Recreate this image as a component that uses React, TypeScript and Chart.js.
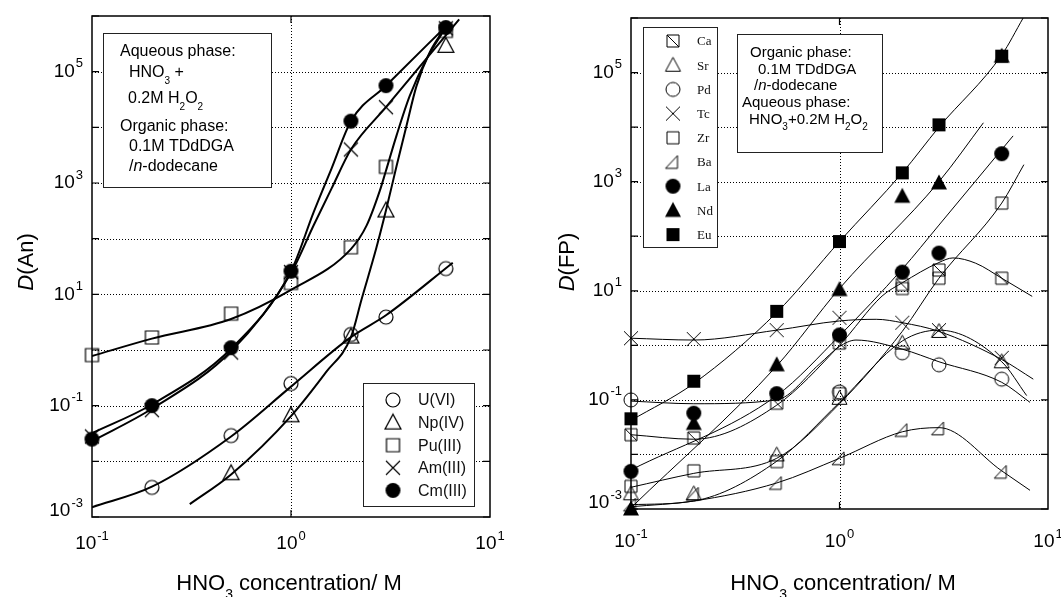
import React, { useEffect, useRef } from 'react';
import { Chart, registerables } from 'chart.js';
Chart.register(...registerables);

// ---------------- Left panel: D(An) vs HNO3 ----------------
const AN_HNO3 = [0.1, 0.2, 0.5, 1, 2, 3, 6];
const U_VI = [null, 0.0034, 0.029, 0.25, 1.9, 3.9, 29];
const NP_IV = [null, null, 0.0061, 0.067, 1.74, 320, 2.9e5];
const PU_III = [0.81, 1.68, 4.5, 16, 70, 1950, 5.4e5];
const AM_III = [0.028, 0.083, 0.9, 25, 4000, 23000, 6.0e5];
const CM_III = [0.025, 0.1, 1.1, 26, 12900, 56000, 6.2e5];

const U_FIT_X = [0.1, 0.2, 0.5, 1, 2, 3, 6.5];
const U_FIT_Y = [0.0015, 0.0035, 0.028, 0.22, 1.7, 4.2, 37];
const NP_FIT_X = [0.31, 0.5, 1, 1.5, 2, 2.26, 2.69, 3, 3.39, 3.8, 4.27, 4.97, 5.96];
const NP_FIT_Y = [0.0017, 0.0058, 0.065, 0.4, 1.7, 8, 70, 320, 2000, 10500, 55000, 2.2e5, 6.2e5];
const PU_FIT_X = [0.1, 0.2, 0.5, 1, 2, 2.4, 2.79, 3, 3.39, 3.95, 4.79, 5.96];
const PU_FIT_Y = [0.78, 1.6, 3.6, 12, 65, 173, 713, 1660, 7100, 36600, 1.67e5, 6.0e5];
const AM_FIT_X = [0.1, 0.2, 0.5, 1, 1.3, 1.6, 2, 3, 7.0];
const AM_FIT_Y = [0.023, 0.088, 0.95, 24, 174, 800, 4000, 23000, 8.7e5];
const CM_FIT_X = [0.1, 0.2, 0.5, 1, 1.3, 1.6, 2, 3, 6];
const CM_FIT_Y = [0.032, 0.105, 1.05, 26, 300, 1840, 12900, 56000, 6.5e5];

// ---------------- Right panel: D(FP) vs HNO3 ----------------
const FP_HNO3 = [0.1, 0.2, 0.5, 1, 2, 3, 6];
const CA = [0.023, 0.02, 0.087, 1.1, 13, 24, 17];
const SR = [0.0019, 0.0019, 0.0098, 0.107, 1.1, 1.8, 0.5];
const PD = [0.1, null, null, 0.14, 0.73, 0.44, 0.24];
const TC = [1.35, 1.3, 1.9, 3.2, 2.6, 1.9, 0.59];
const ZR = [0.0026, 0.005, 0.0074, 0.13, 11, 17, 405];
const BA = [0.0012, 0.0019, 0.003, 0.0085, 0.028, 0.03, 0.0048];
const LA = [0.0049, 0.057, 0.13, 1.55, 22, 49, 3250];
const ND = [0.001, 0.037, 0.44, 10.5, 540, 950, 2.0e5];
const EU = [0.045, 0.22, 4.2, 80, 1450, 11000, 2.0e5];

const EU_FIT_X = [0.1, 0.2, 0.5, 1, 2, 3, 6, 7.6];
const EU_FIT_Y = [0.042, 0.2, 4.0, 80, 1450, 10000, 2.1e5, 1e6];
const ND_FIT_X = [0.1, 0.5, 1, 3, 4.9];
const ND_FIT_Y = [0.00105, 0.42, 11, 1000, 12000];
const LA_FIT_X = [0.1, 0.5, 1, 2, 3, 6.8];
const LA_FIT_Y = [0.0052, 0.12, 1.5, 25, 160, 6900];
const ZR_FIT_X = [0.1, 0.2, 0.5, 1, 2, 3, 6, 7.66];
const ZR_FIT_Y = [0.0025, 0.0045, 0.0085, 0.085, 1.8, 17, 405, 2050];
const CA_FIT_X = [0.1, 0.2, 0.5, 1, 1.6, 2, 3, 3.5, 4.5, 6, 8.4];
const CA_FIT_Y = [0.023, 0.019, 0.08, 1.0, 8, 14, 33, 40, 32, 17, 7.9];
const TC_FIT_X = [0.1, 0.2, 0.5, 1, 1.5, 2, 3, 6, 8.5];
const TC_FIT_Y = [1.35, 1.25, 1.9, 2.8, 3.0, 2.6, 1.8, 0.55, 0.24];
const PD_FIT_X = [0.1, 0.2, 0.5, 0.8, 1, 1.2, 2, 3, 6, 8.2];
const PD_FIT_Y = [0.095, 0.085, 0.1, 0.45, 0.95, 1.25, 0.85, 0.5, 0.21, 0.09];
const SR_FIT_X = [0.1, 0.2, 0.5, 1, 2, 3, 6, 7.9];
const SR_FIT_Y = [0.0012, 0.0014, 0.0075, 0.09, 1.2, 1.9, 0.5, 0.12];
const BA_FIT_X = [0.1, 0.2, 0.5, 1, 2, 3, 6, 8.2];
const BA_FIT_Y = [0.0011, 0.0014, 0.003, 0.0085, 0.026, 0.031, 0.005, 0.0022];

// Tick exponents
const Y_LABEL_EXPS = [-3, -1, 1, 3, 5];
const X_LABEL_EXPS = [-1, 0, 1];
const Y_GRID_EXPS = [-2, -1, 0, 1, 2, 3, 4, 5];
const Y_TICK_EXPS = [-3, -2, -1, 0, 1, 2, 3, 4, 5, 6];
const X_GRID_EXPS = [0];

const SANS = '"Liberation Sans", Arial, sans-serif';
const SERIF = '"Liberation Serif", "Times New Roman", serif';

type Seg = { t: string; sub?: boolean; sup?: boolean; it?: boolean };

function makeMarker(kind: string, size: number, lw: number): HTMLCanvasElement {
  const pad = Math.ceil(lw) + 2;
  const dim = Math.ceil(size + pad * 2);
  const c = document.createElement('canvas');
  c.width = dim;
  c.height = dim;
  const g = c.getContext('2d')!;
  const cx = dim / 2, cy = dim / 2, h = size / 2;
  g.lineWidth = lw;
  g.strokeStyle = '#000';
  g.fillStyle = '#000';
  g.beginPath();
  switch (kind) {
    case 'circle':
      g.arc(cx, cy, h, 0, Math.PI * 2);
      g.stroke();
      break;
    case 'dot':
      g.arc(cx, cy, h, 0, Math.PI * 2);
      g.fill();
      break;
    case 'square':
      g.rect(cx - h, cy - h, size, size);
      g.stroke();
      break;
    case 'fsquare':
      g.rect(cx - h, cy - h, size, size);
      g.fill();
      break;
    case 'xsquare':
      g.rect(cx - h, cy - h, size, size);
      g.moveTo(cx - h, cy - h);
      g.lineTo(cx + h, cy + h);
      g.stroke();
      break;
    case 'triangle':
    case 'ftriangle':
      g.moveTo(cx, cy - h * 1.05);
      g.lineTo(cx + h, cy + h * 0.8);
      g.lineTo(cx - h, cy + h * 0.8);
      g.closePath();
      if (kind === 'triangle') g.stroke(); else g.fill();
      break;
    case 'rtri':
      g.moveTo(cx - h, cy + h * 0.85);
      g.lineTo(cx + h * 0.6, cy + h * 0.85);
      g.lineTo(cx + h * 0.6, cy - h * 0.85);
      g.closePath();
      g.stroke();
      break;
    case 'cross':
      g.moveTo(cx - h, cy - h);
      g.lineTo(cx + h, cy + h);
      g.moveTo(cx + h, cy - h);
      g.lineTo(cx - h, cy + h);
      g.stroke();
      break;
  }
  return c;
}

function pts(xs: number[], ys: (number | null)[]) {
  const out: { x: number; y: number }[] = [];
  xs.forEach((x, i) => {
    const y = ys[i];
    if (y !== null && y !== undefined) out.push({ x, y });
  });
  return out;
}

function drawRich(ctx: CanvasRenderingContext2D, segs: Seg[], x: number, y: number, size: number, family: string, align: 'left' | 'center' | 'right' = 'left') {
  const fontFor = (s: Seg) => `${s.it ? 'italic ' : ''}${s.sub || s.sup ? Math.round(size * 0.65) : size}px ${family}`;
  let total = 0;
  const widths = segs.map((s) => {
    ctx.font = fontFor(s);
    const w = ctx.measureText(s.t).width;
    total += w;
    return w;
  });
  let cx = align === 'center' ? x - total / 2 : align === 'right' ? x - total : x;
  ctx.textAlign = 'left';
  ctx.textBaseline = 'alphabetic';
  segs.forEach((s, i) => {
    ctx.font = fontFor(s);
    const dy = s.sub ? size * 0.42 : s.sup ? -size * 0.45 : 0;
    ctx.fillText(s.t, cx, y + dy);
    cx += widths[i];
  });
}

function drawPow(ctx: CanvasRenderingContext2D, exp: number, x: number, y: number, align: 'right' | 'center') {
  const base = `19px ${SANS}`;
  const sup = `13px ${SANS}`;
  ctx.font = base;
  const w1 = ctx.measureText('10').width;
  ctx.font = sup;
  const es = String(exp);
  const w2 = ctx.measureText(es).width;
  const total = w1 + 1 + w2;
  const sx = align === 'right' ? x - total : x - total / 2;
  ctx.textAlign = 'left';
  ctx.textBaseline = 'middle';
  ctx.fillStyle = '#000';
  ctx.font = base;
  ctx.fillText('10', sx, y);
  ctx.font = sup;
  ctx.fillText(es, sx + w1 + 1, y - 8);
}

type Spec = {
  id: string;
  yLabelRight: number;
  xLabelY: number;
  yTitle: { x: number; y: number; segs: Seg[] };
  xTitle: { x: number; y: number; segs: Seg[] };
  annot: { box: number[]; size: number; lines: { x: number; y: number; segs: Seg[] }[] };
  legend: { box: number[]; symX: number; textX: number; y0: number; dy: number; font: string };
};

function panelPlugin(spec: Spec) {
  return {
    id: 'panel_' + spec.id,
    beforeDatasetsDraw(chart: any) {
      const { ctx, chartArea: a, scales } = chart;
      const xs = scales.x, ys = scales.y;
      ctx.save();
      ctx.strokeStyle = '#000';
      ctx.lineWidth = 1;
      ctx.setLineDash([1, 2]);
      Y_GRID_EXPS.forEach((e) => {
        const py = Math.round(ys.getPixelForValue(Math.pow(10, e))) + 0.5;
        ctx.beginPath();
        ctx.moveTo(a.left, py);
        ctx.lineTo(a.right, py);
        ctx.stroke();
      });
      X_GRID_EXPS.forEach((e) => {
        const px = Math.round(xs.getPixelForValue(Math.pow(10, e))) + 0.5;
        ctx.beginPath();
        ctx.moveTo(px, a.top);
        ctx.lineTo(px, a.bottom);
        ctx.stroke();
      });
      ctx.restore();
    },
    afterDatasetsDraw(chart: any) {
      const { ctx, chartArea: a, scales } = chart;
      const xs = scales.x, ys = scales.y;
      ctx.save();
      ctx.setLineDash([]);
      ctx.strokeStyle = '#000';
      ctx.lineWidth = 1.5;
      ctx.strokeRect(a.left, a.top, a.right - a.left, a.bottom - a.top);
      ctx.lineWidth = 1.2;
      Y_TICK_EXPS.forEach((e) => {
        const py = ys.getPixelForValue(Math.pow(10, e));
        ctx.beginPath();
        ctx.moveTo(a.left, py);
        ctx.lineTo(a.left + 7, py);
        ctx.moveTo(a.right, py);
        ctx.lineTo(a.right - 7, py);
        ctx.stroke();
      });
      X_GRID_EXPS.forEach((e) => {
        const px = xs.getPixelForValue(Math.pow(10, e));
        ctx.beginPath();
        ctx.moveTo(px, a.bottom);
        ctx.lineTo(px, a.bottom - 7);
        ctx.moveTo(px, a.top);
        ctx.lineTo(px, a.top + 7);
        ctx.stroke();
      });
      Y_LABEL_EXPS.forEach((e) => {
        const py = ys.getPixelForValue(Math.pow(10, e));
        drawPow(ctx, e, spec.yLabelRight, e === -3 ? py - 6 : py, 'right');
      });
      X_LABEL_EXPS.forEach((e) => {
        const px = xs.getPixelForValue(Math.pow(10, e));
        drawPow(ctx, e, px, spec.xLabelY, 'center');
      });
      ctx.fillStyle = '#000';
      drawRich(ctx, spec.xTitle.segs, spec.xTitle.x, spec.xTitle.y, 22, SANS, 'center');
      ctx.save();
      ctx.translate(spec.yTitle.x + 8, spec.yTitle.y);
      ctx.rotate(-Math.PI / 2);
      drawRich(ctx, spec.yTitle.segs, 0, 0, 22, SANS, 'center');
      ctx.restore();
      const b = spec.annot.box;
      ctx.fillStyle = '#fff';
      ctx.fillRect(b[0], b[1], b[2] - b[0], b[3] - b[1]);
      ctx.strokeStyle = '#222';
      ctx.lineWidth = 1;
      ctx.strokeRect(b[0] + 0.5, b[1] + 0.5, b[2] - b[0], b[3] - b[1]);
      ctx.fillStyle = '#000';
      spec.annot.lines.forEach((ln) => drawRich(ctx, ln.segs, ln.x, ln.y, spec.annot.size, SANS, 'left'));
      const L = spec.legend;
      ctx.fillStyle = '#fff';
      ctx.fillRect(L.box[0], L.box[1], L.box[2] - L.box[0], L.box[3] - L.box[1]);
      ctx.strokeStyle = '#222';
      ctx.strokeRect(L.box[0] + 0.5, L.box[1] + 0.5, L.box[2] - L.box[0], L.box[3] - L.box[1]);
      let row = 0;
      chart.data.datasets.forEach((ds: any) => {
        if (!ds.legendMarker) return;
        const yy = L.y0 + L.dy * row;
        const img: HTMLCanvasElement = ds.legendMarker;
        ctx.drawImage(img, L.symX - img.width / 2, yy - img.height / 2);
        ctx.fillStyle = '#111';
        ctx.font = L.font;
        ctx.textAlign = 'left';
        ctx.textBaseline = 'middle';
        ctx.fillText(ds.label, L.textX, yy + 1);
        row++;
      });
      ctx.restore();
    },
  };
}

function scatterDs(label: string, xs: number[], ys: (number | null)[], marker: HTMLCanvasElement) {
  return {
    label,
    data: pts(xs, ys),
    showLine: false,
    pointStyle: marker,
    pointRadius: 6,
    pointHoverRadius: 6,
    clip: false,
    legendMarker: marker,
  } as any;
}

function fitDs(xs: number[], ys: number[], width: number) {
  return {
    label: '',
    data: pts(xs, ys),
    showLine: true,
    pointRadius: 0,
    pointHoverRadius: 0,
    borderColor: '#000',
    borderWidth: width,
    cubicInterpolationMode: 'monotone',
    fill: false,
  } as any;
}

function baseOptions(padding: any) {
  return {
    animation: false,
    responsive: false,
    devicePixelRatio: 1,
    events: [],
    layout: { padding },
    plugins: { legend: { display: false }, tooltip: { enabled: false } },
    scales: {
      x: { type: 'logarithmic', min: 0.1, max: 10, display: false },
      y: { type: 'logarithmic', min: 1e-3, max: 1e6, display: false },
    },
  } as any;
}

export default function App() {
  const leftRef = useRef<HTMLCanvasElement>(null);
  const rightRef = useRef<HTMLCanvasElement>(null);

  useEffect(() => {
    const mL = {
      circle: makeMarker('circle', 14, 1.2),
      triangle: makeMarker('triangle', 16, 1.2),
      square: makeMarker('square', 13, 1.2),
      cross: makeMarker('cross', 14, 1.2),
      dot: makeMarker('dot', 15, 1),
    };
    const mR = {
      xsquare: makeMarker('xsquare', 12, 1),
      triangle: makeMarker('triangle', 15, 1),
      circle: makeMarker('circle', 14, 1),
      cross: makeMarker('cross', 14, 1),
      square: makeMarker('square', 12, 1),
      rtri: makeMarker('rtri', 15, 1),
      dot: makeMarker('dot', 15, 1),
      ftriangle: makeMarker('ftriangle', 16, 1),
      fsquare: makeMarker('fsquare', 13, 1),
    };

    const leftSpec: Spec = {
      id: 'an',
      yLabelRight: 83,
      xLabelY: 544,
      yTitle: { x: 25, y: 262, segs: [{ t: 'D', it: true }, { t: '(An)' }] },
      xTitle: { x: 289, y: 590, segs: [{ t: 'HNO' }, { t: '3', sub: true }, { t: ' concentration/ M' }] },
      annot: {
        box: [103, 33, 271, 187],
        size: 16,
        lines: [
          { x: 120, y: 56, segs: [{ t: 'Aqueous phase:' }] },
          { x: 129, y: 77, segs: [{ t: 'HNO' }, { t: '3', sub: true }, { t: ' +' }] },
          { x: 128, y: 103, segs: [{ t: '0.2M H' }, { t: '2', sub: true }, { t: 'O' }, { t: '2', sub: true }] },
          { x: 120, y: 131, segs: [{ t: 'Organic phase:' }] },
          { x: 129, y: 151, segs: [{ t: '0.1M TDdDGA' }] },
          { x: 129, y: 171, segs: [{ t: '/' }, { t: 'n', it: true }, { t: '-dodecane' }] },
        ],
      },
      legend: { box: [363, 383, 474, 506], symX: 393, textX: 418, y0: 400, dy: 22.6, font: `16px ${SANS}` },
    };

    const rightSpec: Spec = {
      id: 'fp',
      yLabelRight: 622,
      xLabelY: 542,
      yTitle: { x: 566, y: 262, segs: [{ t: 'D', it: true }, { t: '(FP)' }] },
      xTitle: { x: 843, y: 590, segs: [{ t: 'HNO' }, { t: '3', sub: true }, { t: ' concentration/ M' }] },
      annot: {
        box: [737, 34, 882, 152],
        size: 15,
        lines: [
          { x: 750, y: 57, segs: [{ t: 'Organic phase:' }] },
          { x: 758, y: 74, segs: [{ t: '0.1M TDdDGA' }] },
          { x: 754, y: 90, segs: [{ t: '/' }, { t: 'n', it: true }, { t: '-dodecane' }] },
          { x: 742, y: 107, segs: [{ t: 'Aqueous phase:' }] },
          { x: 749, y: 124, segs: [{ t: 'HNO' }, { t: '3', sub: true }, { t: '+0.2M H' }, { t: '2', sub: true }, { t: 'O' }, { t: '2', sub: true }] },
        ],
      },
      legend: { box: [643, 27, 717, 247], symX: 673, textX: 697, y0: 41, dy: 24.2, font: `13px ${SERIF}` },
    };

    const left = new Chart(leftRef.current!, {
      type: 'scatter',
      data: {
        datasets: [
          scatterDs('U(VI)', AN_HNO3, U_VI, mL.circle),
          scatterDs('Np(IV)', AN_HNO3, NP_IV, mL.triangle),
          scatterDs('Pu(III)', AN_HNO3, PU_III, mL.square),
          scatterDs('Am(III)', AN_HNO3, AM_III, mL.cross),
          scatterDs('Cm(III)', AN_HNO3, CM_III, mL.dot),
          fitDs(U_FIT_X, U_FIT_Y, 2),
          fitDs(NP_FIT_X, NP_FIT_Y, 2),
          fitDs(PU_FIT_X, PU_FIT_Y, 2),
          fitDs(AM_FIT_X, AM_FIT_Y, 2),
          fitDs(CM_FIT_X, CM_FIT_Y, 2),
        ],
      },
      options: baseOptions({ left: 92, right: 571, top: 16, bottom: 80 }),
      plugins: [panelPlugin(leftSpec)],
    } as any);

    const right = new Chart(rightRef.current!, {
      type: 'scatter',
      data: {
        datasets: [
          scatterDs('Ca', FP_HNO3, CA, mR.xsquare),
          scatterDs('Sr', FP_HNO3, SR, mR.triangle),
          scatterDs('Pd', FP_HNO3, PD, mR.circle),
          scatterDs('Tc', FP_HNO3, TC, mR.cross),
          scatterDs('Zr', FP_HNO3, ZR, mR.square),
          scatterDs('Ba', FP_HNO3, BA, mR.rtri),
          scatterDs('La', FP_HNO3, LA, mR.dot),
          scatterDs('Nd', FP_HNO3, ND, mR.ftriangle),
          scatterDs('Eu', FP_HNO3, EU, mR.fsquare),
          fitDs(EU_FIT_X, EU_FIT_Y, 1),
          fitDs(ND_FIT_X, ND_FIT_Y, 1),
          fitDs(LA_FIT_X, LA_FIT_Y, 1),
          fitDs(ZR_FIT_X, ZR_FIT_Y, 1),
          fitDs(CA_FIT_X, CA_FIT_Y, 1),
          fitDs(TC_FIT_X, TC_FIT_Y, 1),
          fitDs(PD_FIT_X, PD_FIT_Y, 1),
          fitDs(SR_FIT_X, SR_FIT_Y, 1),
          fitDs(BA_FIT_X, BA_FIT_Y, 1),
        ],
      },
      options: baseOptions({ left: 631, right: 13, top: 18, bottom: 88 }),
      plugins: [panelPlugin(rightSpec)],
    } as any);

    return () => {
      left.destroy();
      right.destroy();
    };
  }, []);

  return (
    <div style={{ position: 'fixed', left: 0, top: 0, width: 1061, height: 597, background: '#fff' }}>
      <canvas ref={leftRef} width={1061} height={597} style={{ position: 'absolute', left: 0, top: 0 }} />
      <canvas ref={rightRef} width={1061} height={597} style={{ position: 'absolute', left: 0, top: 0 }} />
    </div>
  );
}
